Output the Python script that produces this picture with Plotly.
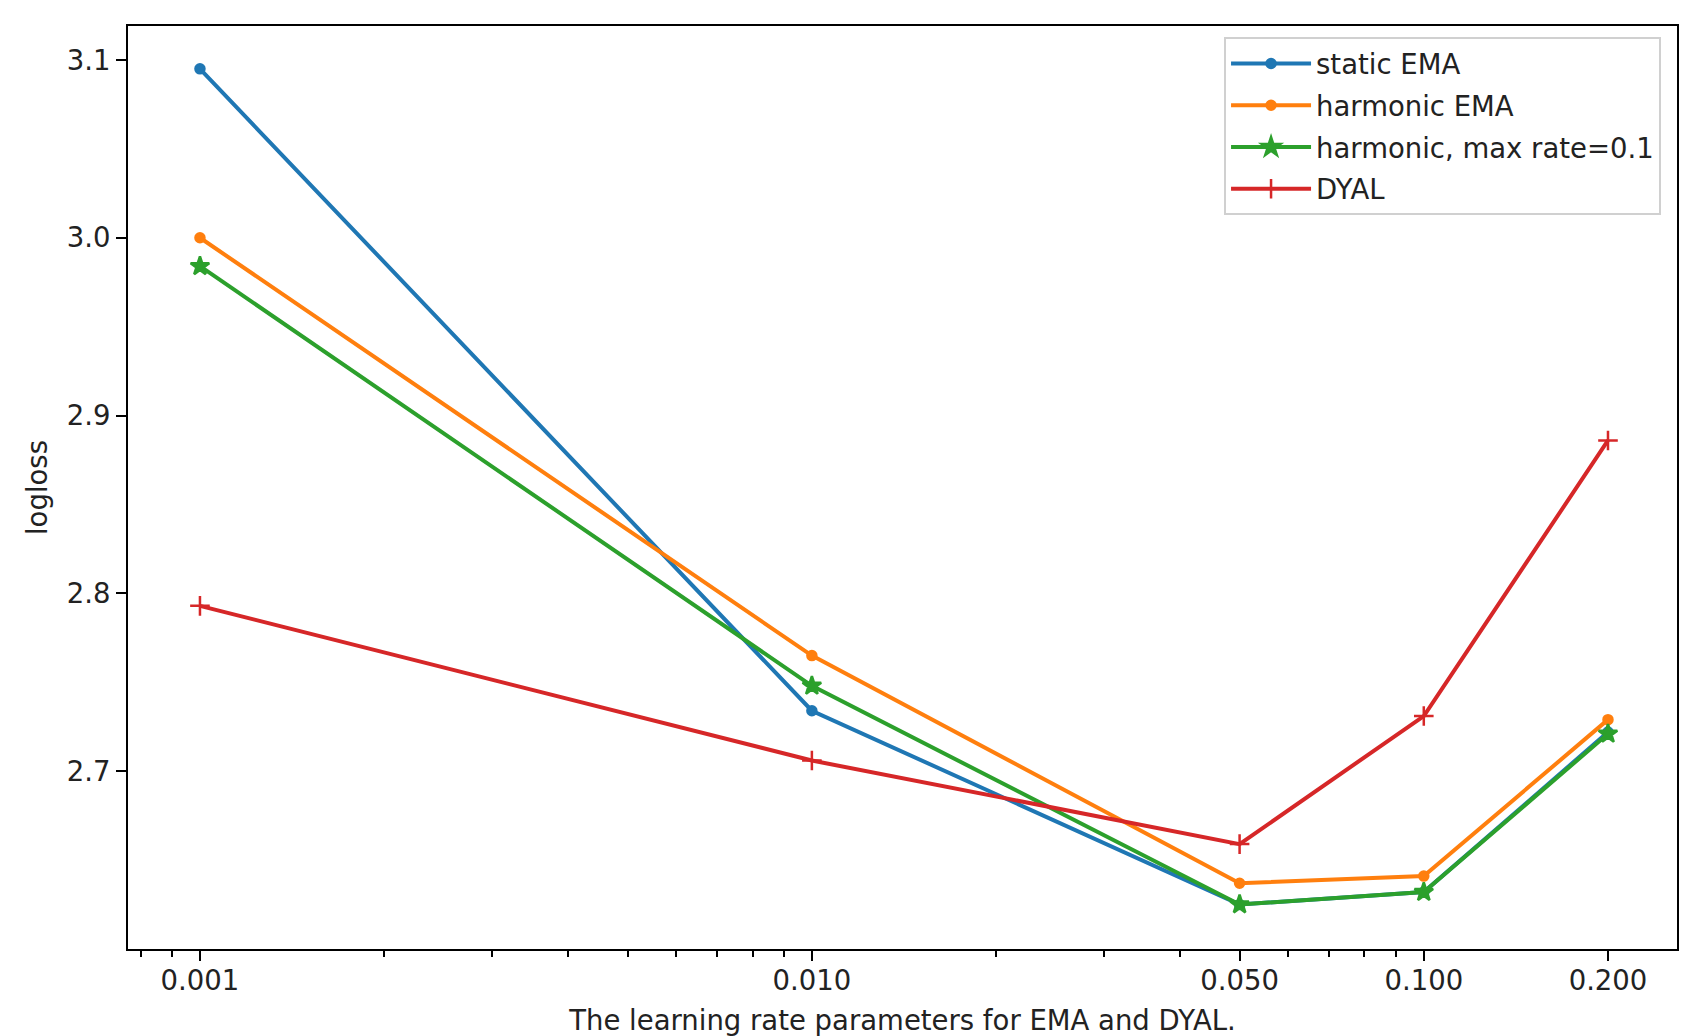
import plotly.graph_objects as go

# learning rate values on the x axis
rates = [0.001, 0.01, 0.05, 0.1, 0.2]
rate_labels = ["0.001", "0.010", "0.050", "0.100", "0.200"]

# logloss for each method
static_ema = [3.095, 2.734, 2.625, 2.632, 2.722]
harmonic_ema = [3.000, 2.765, 2.637, 2.641, 2.729]
harmonic_max = [2.984, 2.748, 2.625, 2.632, 2.721]
dyal = [2.793, 2.706, 2.659, 2.731, 2.886]

y_ticks = [2.7, 2.8, 2.9, 3.0, 3.1]
minor_ticks = [0.0008, 0.0009, 0.002, 0.003, 0.004, 0.005, 0.006, 0.007, 0.008,
               0.009, 0.02, 0.03, 0.04, 0.06, 0.07, 0.08, 0.09]

FONT = "DejaVu Sans, sans-serif"

series = [
    ("static EMA", static_ema, "#1f77b4", "circle", 9),
    ("harmonic EMA", harmonic_ema, "#ff7f0e", "circle", 9),
    ("harmonic, max rate=0.1", harmonic_max, "#2ca02c", "star", 14),
    ("DYAL", dyal, "#d62728", "cross-thin", 14),
]

fig = go.Figure()
for name, vals, color, symbol, size in series:
    fig.add_trace(go.Scatter(
        x=rates,
        y=vals,
        mode="lines+markers",
        name=name,
        legendgroup=name,
        line=dict(color=color, width=4),
        marker=dict(symbol=symbol, size=size, color=color,
                    line=dict(color=color, width=2.5)),
    ))

# the page body has an 8px margin, so the figure is a bit smaller than the window
fig.update_layout(
    width=1694,
    height=1028,
    margin=dict(l=120, r=25, t=18, b=87),
    plot_bgcolor="white",
    paper_bgcolor="white",
    font=dict(family=FONT, size=27.5, color="#222222"),
    legend=dict(
        x=0.9897, y=0.988, xanchor="right", yanchor="top",
        bgcolor="rgba(255,255,255,0.8)",
        bordercolor="#d0d0d0", borderwidth=2,
        font=dict(family=FONT, size=27.5, color="#222222"),
        itemwidth=80,
        tracegroupgap=3,
    ),
    showlegend=True,
)

fig.update_xaxes(
    type="log",
    range=[-3.1176, -0.5862],
    tickvals=rates,
    ticktext=rate_labels,
    ticks="outside", ticklen=10, tickwidth=2, tickcolor="black",
    ticklabelstandoff=-4,
    minor=dict(tickvals=minor_ticks, ticks="outside", ticklen=6,
               tickwidth=1.5, tickcolor="black", showgrid=False),
    showline=True, linecolor="black", linewidth=2, mirror=True,
    showgrid=False, zeroline=False,
    automargin=False,
    title=dict(text="The learning rate parameters for EMA and DYAL.",
               standoff=16, font=dict(size=27.5)),
)

fig.update_yaxes(
    range=[2.6, 3.1191],
    tickvals=y_ticks,
    tickformat=".1f",
    ticks="outside", ticklen=10, tickwidth=2, tickcolor="black",
    showline=True, linecolor="black", linewidth=2, mirror=True,
    showgrid=False, zeroline=False,
    automargin=False,
    title=dict(text="logloss", standoff=11, font=dict(size=27.5)),
)

fig.write_html("out.html")
